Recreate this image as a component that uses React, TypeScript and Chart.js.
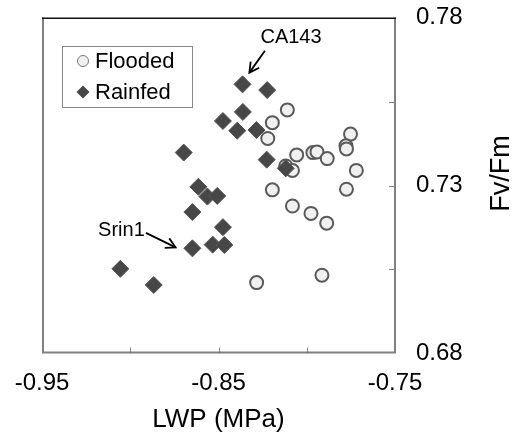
import React, { useEffect, useRef } from 'react';
import { Chart, registerables } from 'chart.js';

Chart.register(...registerables);

// LWP (MPa) and Fv/Fm values
const floodedLWP = [-0.811, -0.8195, -0.8221, -0.8057, -0.7965, -0.7942, -0.7884, -0.7752, -0.7778, -0.7775, -0.7719, -0.7775, -0.8119, -0.8081, -0.8195, -0.8081, -0.7976, -0.7887, -0.8284, -0.7914];
const floodedFvFm = [0.7525, 0.7487, 0.744, 0.7391, 0.7398, 0.74, 0.738, 0.7453, 0.7418, 0.7409, 0.7345, 0.7289, 0.7358, 0.7345, 0.7287, 0.7239, 0.7217, 0.7188, 0.7011, 0.7033];

const rainfedLWP = [-0.8364, -0.8224, -0.8362, -0.8475, -0.8394, -0.8285, -0.8697, -0.8227, -0.8119, -0.8614, -0.8563, -0.8507, -0.8648, -0.8475, -0.8648, -0.8533, -0.8467, -0.9056, -0.8867];
const rainfedFvFm = [0.7601, 0.7584, 0.7519, 0.7492, 0.7463, 0.7465, 0.7398, 0.7377, 0.7351, 0.7296, 0.7267, 0.7269, 0.7221, 0.7176, 0.7113, 0.7124, 0.7123, 0.7052, 0.7004];

const xLabelTicks = [-0.95, -0.85, -0.75];
const yLabelTicks = [0.68, 0.73, 0.78];

const seriesNames = ['Flooded', 'Rainfed'];

// Text callouts (data coordinates)
const calloutLabels = ['CA143', 'Srin1'];
const calloutTextX = [-0.8089, -0.905];
const calloutTextY = [0.7742, 0.7166];
const calloutFromX = [-0.8237, -0.8911];
const calloutFromY = [0.7701, 0.7159];
const calloutToX = [-0.8325, -0.8743];
const calloutToY = [0.7636, 0.7116];

const FONT = "'Liberation Sans', Arial, sans-serif";

const near = (a: number, list: number[]) => list.some((b) => Math.abs(a - b) < 1e-6);

const decorPlugin = {
  id: 'decor',
  afterDraw(chart: any) {
    const { ctx, chartArea } = chart;
    const xs = chart.scales.x;
    const ys = chart.scales.y;
    const { left, right, top, bottom } = chartArea;
    ctx.save();

    // inward ticks
    ctx.strokeStyle = '#808080';
    ctx.lineWidth = 1;
    xs.ticks.forEach((t: any) => {
      if (t.value <= xs.min + 1e-9 || t.value >= xs.max - 1e-9) return;
      const px = Math.round(xs.getPixelForValue(t.value)) + 0.5;
      ctx.beginPath();
      ctx.moveTo(px, bottom);
      ctx.lineTo(px, bottom - 6);
      ctx.stroke();
    });
    ys.ticks.forEach((t: any) => {
      if (t.value <= ys.min + 1e-9 || t.value >= ys.max - 1e-9) return;
      const py = Math.round(ys.getPixelForValue(t.value)) + 0.5;
      ctx.beginPath();
      ctx.moveTo(right, py);
      ctx.lineTo(right - 6, py);
      ctx.stroke();
    });

    // frame
    ctx.strokeStyle = '#808080';
    ctx.lineWidth = 2;
    ctx.beginPath();
    ctx.moveTo(left + 1, top);
    ctx.lineTo(left + 1, bottom - 1);
    ctx.lineTo(right, bottom - 1);
    ctx.lineTo(right, top);
    ctx.stroke();
    ctx.strokeStyle = '#111';
    ctx.lineWidth = 1.5;
    ctx.beginPath();
    ctx.moveTo(left, top + 0.75);
    ctx.lineTo(right + 1, top + 0.75);
    ctx.stroke();

    // legend
    const lx = left + 20;
    const ly = top + 28.5;
    ctx.fillStyle = '#fff';
    ctx.fillRect(lx, ly, 130, 61);
    ctx.strokeStyle = '#888';
    ctx.lineWidth = 1;
    ctx.strokeRect(lx + 0.5, ly + 0.5, 130, 61);
    const ds = chart.data.datasets;
    const rows = [ly + 15, ly + 46];
    ds.forEach((d: any, i: number) => {
      const cy = rows[i];
      const cx = lx + 21;
      ctx.beginPath();
      if (d.pointStyle === 'circle') {
        ctx.arc(cx, cy, 5.5, 0, Math.PI * 2);
        ctx.fillStyle = d.backgroundColor;
        ctx.fill();
        ctx.strokeStyle = '#777';
        ctx.lineWidth = 1;
        ctx.stroke();
      } else {
        const r = 6.5;
        ctx.moveTo(cx - r, cy);
        ctx.lineTo(cx, cy - r);
        ctx.lineTo(cx + r, cy);
        ctx.lineTo(cx, cy + r);
        ctx.closePath();
        ctx.fillStyle = d.backgroundColor;
        ctx.fill();
      }
      ctx.fillStyle = '#000';
      ctx.font = `22px ${FONT}`;
      ctx.textAlign = 'left';
      ctx.textBaseline = 'middle';
      ctx.fillText(d.label, lx + 33, cy + 1);
    });

    // callouts
    calloutLabels.forEach((lab, i) => {
      const tx = xs.getPixelForValue(calloutTextX[i]);
      const ty = ys.getPixelForValue(calloutTextY[i]);
      ctx.fillStyle = '#000';
      ctx.font = `20px ${FONT}`;
      ctx.textAlign = 'center';
      ctx.textBaseline = 'middle';
      ctx.fillText(lab, tx, ty);
      const x1 = xs.getPixelForValue(calloutFromX[i]);
      const y1 = ys.getPixelForValue(calloutFromY[i]);
      const x2 = xs.getPixelForValue(calloutToX[i]);
      const y2 = ys.getPixelForValue(calloutToY[i]);
      ctx.strokeStyle = '#000';
      ctx.lineWidth = 1.8;
      ctx.beginPath();
      ctx.moveTo(x1, y1);
      ctx.lineTo(x2, y2);
      ctx.stroke();
      const ang = Math.atan2(y2 - y1, x2 - x1);
      const L = 11;
      const spread = 0.5;
      ctx.beginPath();
      ctx.moveTo(x2 - L * Math.cos(ang - spread), y2 - L * Math.sin(ang - spread));
      ctx.lineTo(x2, y2);
      ctx.lineTo(x2 - L * Math.cos(ang + spread), y2 - L * Math.sin(ang + spread));
      ctx.stroke();
    });

    // right axis title (reads bottom-to-top)
    ctx.save();
    ctx.translate(502, (top + bottom) / 2 - 12);
    ctx.rotate(-Math.PI / 2);
    ctx.fillStyle = '#000';
    ctx.font = `27px ${FONT}`;
    ctx.textAlign = 'center';
    ctx.textBaseline = 'middle';
    ctx.fillText('Fv/Fm', 0, 0);
    ctx.restore();

    ctx.restore();
  },
};

export default function App() {
  const ref = useRef<HTMLCanvasElement | null>(null);
  useEffect(() => {
    if (!ref.current) return;
    const chart = new Chart(ref.current, {
      type: 'scatter',
      data: {
        datasets: [
          {
            label: seriesNames[0],
            data: floodedLWP.map((x, i) => ({ x, y: floodedFvFm[i] })),
            pointStyle: 'circle',
            pointRadius: 6.5,
            backgroundColor: '#f0f0f0',
            borderColor: '#5a5a5a',
            borderWidth: 2,
            order: 1,
          },
          {
            label: seriesNames[1],
            data: rainfedLWP.map((x, i) => ({ x, y: rainfedFvFm[i] })),
            pointStyle: 'rectRot',
            pointRadius: 8.5,
            backgroundColor: '#474747',
            borderColor: '#555555',
            borderWidth: 1,
            order: 0,
          },
        ],
      },
      options: {
        animation: false,
        responsive: true,
        maintainAspectRatio: false,
        layout: { padding: { left: 42, top: 17.5, right: 0, bottom: 0 } },
        plugins: { legend: { display: false }, tooltip: { enabled: false } },
        scales: {
          x: {
            type: 'linear',
            position: 'bottom',
            min: -0.95,
            max: -0.75,
            grid: { display: false, drawTicks: false },
            border: { display: false },
            ticks: {
              stepSize: 0.05,
              autoSkip: false,
              maxRotation: 0,
              padding: 15,
              color: '#000',
              font: { family: FONT, size: 24 },
              callback: (v: any) => (near(Number(v), xLabelTicks) ? Number(v).toFixed(2) : ''),
            },
            title: {
              display: true,
              text: 'LWP (MPa)',
              color: '#000',
              font: { family: FONT, size: 26 },
              padding: 0,
            },
            afterFit: (s: any) => {
              s.height = 81.5;
              s.paddingLeft = 0;
              s.paddingRight = 0;
            },
          },
          y: {
            type: 'linear',
            position: 'right',
            min: 0.68,
            max: 0.78,
            grid: { display: false, drawTicks: false },
            border: { display: false },
            ticks: {
              stepSize: 0.025,
              autoSkip: false,
              padding: 21,
              color: '#000',
              font: { family: FONT, size: 24 },
              callback: (v: any) => (near(Number(v), yLabelTicks) ? Number(v).toFixed(2) : ''),
            },
            afterFit: (s: any) => {
              s.width = 123;
              s.paddingTop = 0;
              s.paddingBottom = 0;
            },
          },
        },
      },
      plugins: [decorPlugin],
    });
    return () => chart.destroy();
  }, []);
  return (
    <div style={{ position: 'fixed', left: 0, top: 0, width: 518, height: 435, background: '#fff' }}>
      <canvas ref={ref} />
    </div>
  );
}
